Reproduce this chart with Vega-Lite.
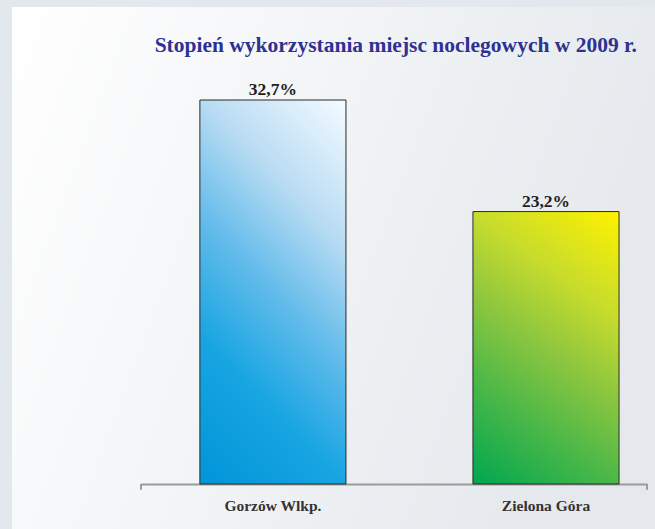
{
  "$schema": "https://vega.github.io/schema/vega-lite/v6.json",
  "width": 643,
  "height": 522,
  "padding": {"left": 12, "top": 7, "right": 0, "bottom": 0},
  "autosize": {"type": "none"},
  "background": "#e2e8ed",
  "config": {
    "view": {
      "stroke": null,
      "fill": {"gradient": "linear", "x1": 0, "y1": 0, "x2": 1, "y2": 0.3, "stops": [{"offset": 0, "color": "#ffffff"}, {"offset": 1, "color": "#e5e9ed"}]}
    },
    "font": "Liberation Serif"
  },
  "title": {
    "text": "Stopień wykorzystania miejsc noclegowych w 2009 r.",
    "anchor": "end",
    "orient": "top",
    "offset": -49,
    "dx": -18,
    "font": "Liberation Serif",
    "fontSize": 21.5,
    "fontWeight": "bold",
    "color": "#2e3192"
  },
  "data": {
    "values": [
      {"miasto": "Gorzów Wlkp.", "wartosc": 32.7, "etykieta": "32,7%"},
      {"miasto": "Zielona Góra", "wartosc": 23.2, "etykieta": "23,2%"}
    ]
  },
  "encoding": {
    "y": {
      "field": "wartosc",
      "type": "quantitative",
      "scale": {"domain": [0, 40.62], "range": [477, 0], "nice": false},
      "axis": null
    }
  },
  "layer": [
    {
      "encoding": {
        "x": {
          "field": "miasto",
          "type": "nominal",
          "sort": null,
          "scale": {"type": "band", "range": [129, 635], "paddingInner": 0.465, "paddingOuter": 0.159, "align": 0.678},
          "axis": {
            "title": null,
            "labelAngle": 0,
            "offset": -45,
            "domainColor": "#9a9a9a",
            "domainWidth": 2,
            "ticks": false,
            "labelFont": "Liberation Serif",
            "labelFontSize": 15.5,
            "labelFontWeight": "bold",
            "labelColor": "#333333",
            "labelPadding": 14
          }
        }
      },
      "layer": [
        {
          "mark": {"type": "bar", "stroke": "#2b2b2b", "strokeWidth": 1},
          "encoding": {
            "fill": {
              "condition": {
                "test": "datum.miasto === 'Gorzów Wlkp.'",
                "value": {"gradient": "linear", "x1": 0, "y1": 1, "x2": 0.469, "y2": -0.207, "stops": [{"offset": 0, "color": "#0095d8"}, {"offset": 0.28, "color": "#18a5e2"}, {"offset": 0.5, "color": "#62bbea"}, {"offset": 0.72, "color": "#b7dbf3"}, {"offset": 1, "color": "#f5fbff"}]}
              },
              "value": {"gradient": "linear", "x1": 0, "y1": 1, "x2": 0.469, "y2": -0.207, "stops": [{"offset": 0, "color": "#00a650"}, {"offset": 0.28, "color": "#4cb848"}, {"offset": 0.5, "color": "#8dc63f"}, {"offset": 0.72, "color": "#c8dc2c"}, {"offset": 1, "color": "#fff200"}]}
            }
          }
        },
        {
          "mark": {"type": "text", "dy": -5, "baseline": "alphabetic", "font": "Liberation Serif", "fontSize": 17.5, "fontWeight": "bold", "color": "#231f20"},
          "encoding": {"text": {"field": "etykieta"}}
        }
      ]
    },
    {
      "transform": [{"filter": "datum.miasto === 'Gorzów Wlkp.'"}],
      "mark": {"type": "rule", "color": "#9a9a9a", "strokeWidth": 2},
      "encoding": {
        "x": {"field": "miasto", "type": "nominal", "bandPosition": 0, "scale": {"type": "band", "domain": ["Gorzów Wlkp.", "Zielona Góra"], "range": [129, 635], "paddingInner": 0, "paddingOuter": 0}, "axis": null},
        "y": {"datum": 0},
        "y2": {"datum": -0.5}
      }
    },
    {
      "transform": [{"filter": "datum.miasto === 'Zielona Góra'"}],
      "mark": {"type": "rule", "color": "#9a9a9a", "strokeWidth": 2},
      "encoding": {
        "x": {"field": "miasto", "type": "nominal", "bandPosition": 1, "scale": {"type": "band", "domain": ["Gorzów Wlkp.", "Zielona Góra"], "range": [129, 635], "paddingInner": 0, "paddingOuter": 0}, "axis": null},
        "y": {"datum": 0},
        "y2": {"datum": -0.5}
      }
    }
  ],
  "resolve": {"scale": {"x": "independent"}}
}
